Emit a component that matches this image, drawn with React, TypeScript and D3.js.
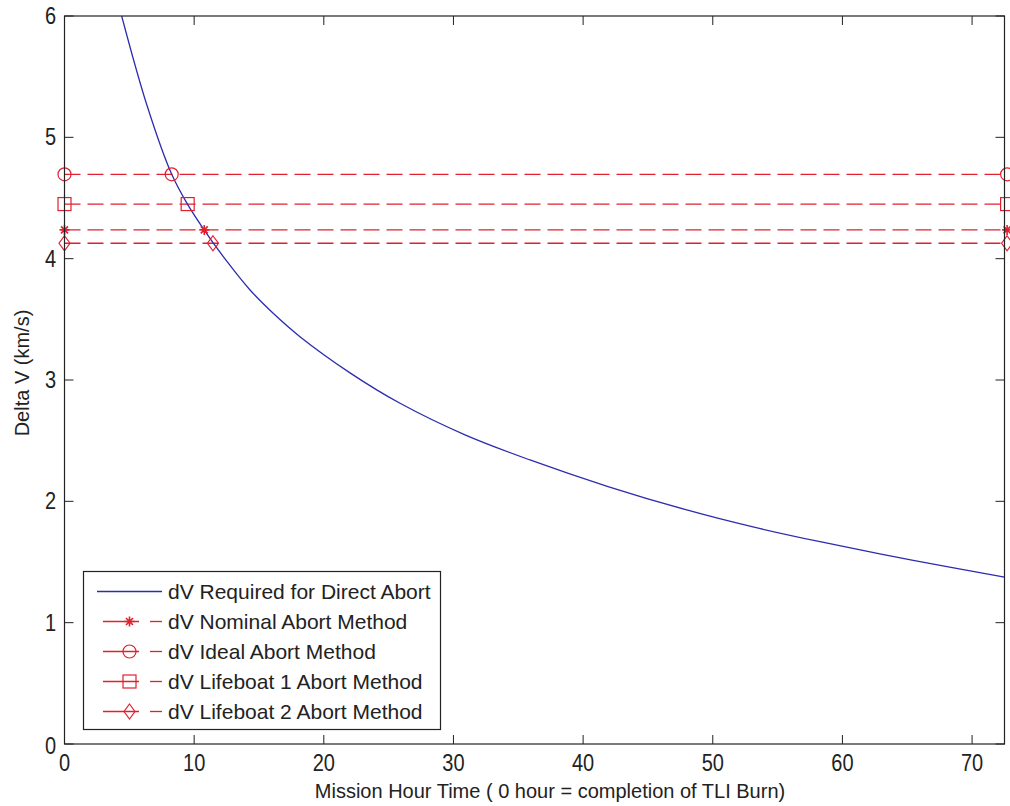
import React from 'react';
import * as d3 from 'd3';

// curve
const CURVE_T = [4.41, 6.34, 8.27, 9.53, 10.78, 12.53, 14.31, 16.24, 18.16, 22.02, 25.88, 30.89, 35.9, 41.92, 47.99, 53.1, 58.27, 65.36, 72.5];
const CURVE_V = [6.0, 5.271, 4.695, 4.441, 4.236, 3.977, 3.742, 3.535, 3.357, 3.059, 2.808, 2.548, 2.341, 2.122, 1.929, 1.789, 1.667, 1.515, 1.376];

// horizontal abort levels: value, crossing time, marker
const ABORT_NAMES = ['dV Nominal Abort Method', 'dV Ideal Abort Method', 'dV Lifeboat 1 Abort Method', 'dV Lifeboat 2 Abort Method'];
const ABORT_VALUES = [4.237, 4.695, 4.45, 4.127];
const ABORT_CROSS = [10.78, 8.27, 9.5, 11.45];
const ABORT_MARKERS = ['star', 'circle', 'square', 'diamond'];
const LINE_END = [0, 72.7];

const X_TICKS = [0, 10, 20, 30, 40, 50, 60, 70];
const Y_TICKS = [0, 1, 2, 3, 4, 5, 6];

const BLUE = '#2c2cb0';
const RED = '#e0202e';
const AXIS = '#222';
const FONT = '"Liberation Sans", Arial, Helvetica, sans-serif';

function Marker({ kind, x, y }: { kind: string; x: number; y: number }) {
  const p = { fill: 'none', stroke: RED, strokeWidth: 1.2 };
  if (kind === 'circle') return <circle cx={x} cy={y} r={6.5} {...p} />;
  if (kind === 'square') return <rect x={x - 6.5} y={y - 6.5} width={13} height={13} {...p} />;
  if (kind === 'diamond') return <path d={`M${x},${y - 7.5}L${x + 5.5},${y}L${x},${y + 7.5}L${x - 5.5},${y}Z`} {...p} />;
  const s = 5;
  return (
    <path
      d={`M${x - s},${y}H${x + s}M${x},${y - s}V${y + s}M${x - s * 0.7},${y - s * 0.7}L${x + s * 0.7},${y + s * 0.7}M${x - s * 0.7},${y + s * 0.7}L${x + s * 0.7},${y - s * 0.7}`}
      {...p}
      strokeWidth={1.6}
    />
  );
}

export default function App() {
  const W = 1010, H = 806;
  const left = 64.5, right = 1004.5, top = 16, bottom = 744;
  const x = d3.scaleLinear().domain([0, 72.5]).range([left, right]);
  const y = d3.scaleLinear().domain([0, 6]).range([bottom, top]);

  const curve = d3.line<number>()
    .x((_, i) => x(CURVE_T[i]))
    .y((v) => y(v))
    .curve(d3.curveCatmullRom.alpha(0.5))(CURVE_V) as string;

  const tick = 9;

  // legend layout
  const lgX = 83.5, lgY = 571.5, lgW = 357, lgH = 158;
  const rowY = (i: number) => 591.5 + i * 30;

  return (
    <svg width={W} height={H} style={{ position: 'absolute', left: 0, top: 0, background: '#fff' }} fontFamily={FONT}>
      <rect x={0} y={0} width={W} height={H} fill="#fff" />
      <defs>
        <clipPath id="plot">
          <rect x={left} y={top} width={right - left} height={bottom - top} />
        </clipPath>
      </defs>

      {/* abort levels */}
      {ABORT_VALUES.map((v, i) => (
        <line key={'l' + i} x1={x(LINE_END[0])} x2={x(LINE_END[1])} y1={y(v)} y2={y(v)}
          stroke={RED} strokeWidth={1.3} strokeDasharray="16,7" />
      ))}

      {/* required curve */}
      <path d={curve} fill="none" stroke={BLUE} strokeWidth={1.3} clipPath="url(#plot)" />

      {ABORT_VALUES.map((v, i) => (
        <g key={'m' + i}>
          {[LINE_END[0], ABORT_CROSS[i], LINE_END[1]].map((t, j) => (
            <Marker key={j} kind={ABORT_MARKERS[i]} x={x(t)} y={y(v)} />
          ))}
        </g>
      ))}

      {/* axes box */}
      <rect x={left} y={top} width={right - left} height={bottom - top} fill="none" stroke={AXIS} strokeWidth={1.2} />
      {X_TICKS.map((t) => (
        <g key={'x' + t}>
          <line x1={x(t)} x2={x(t)} y1={bottom} y2={bottom - tick} stroke={AXIS} />
          <line x1={x(t)} x2={x(t)} y1={top} y2={top + tick} stroke={AXIS} />
          <text transform={`translate(${x(t)},770.5) scale(1,1.15)`} textAnchor="middle" fontSize={20} fill="#222">{t}</text>
        </g>
      ))}
      {Y_TICKS.map((t) => (
        <g key={'y' + t}>
          <line x1={left} x2={left + tick} y1={y(t)} y2={y(t)} stroke={AXIS} />
          <line x1={right} x2={right - tick} y1={y(t)} y2={y(t)} stroke={AXIS} />
          <text transform={`translate(56,${y(t) + (t === 0 ? 10 : 8)}) scale(1,1.15)`} textAnchor="end" fontSize={20} fill="#222">{t}</text>
        </g>
      ))}

      <text x={550} y={798} textAnchor="middle" fontSize={20} fill="#222">
        Mission Hour Time ( 0 hour = completion of TLI Burn)
      </text>
      <text transform="translate(29,373) rotate(-90)" textAnchor="middle" fontSize={20} fill="#222">
        Delta V (km/s)
      </text>

      {/* legend */}
      <rect x={lgX} y={lgY} width={lgW} height={lgH} fill="#fff" stroke={AXIS} strokeWidth={1.2} />
      <line x1={97} x2={162} y1={rowY(0)} y2={rowY(0)} stroke={BLUE} strokeWidth={1.3} />
      <text x={168} y={rowY(0) + 7.5} fontSize={21} fill="#222">dV Required for Direct Abort</text>
      {ABORT_NAMES.map((name, i) => (
        <g key={'lg' + i}>
          <line x1={103} x2={139} y1={rowY(i + 1)} y2={rowY(i + 1)} stroke={RED} strokeWidth={1.3} />
          <line x1={150} x2={162} y1={rowY(i + 1)} y2={rowY(i + 1)} stroke={RED} strokeWidth={1.3} />
          <Marker kind={ABORT_MARKERS[i]} x={129.5} y={rowY(i + 1)} />
          <text x={168} y={rowY(i + 1) + 7.5} fontSize={21} fill="#222">{name}</text>
        </g>
      ))}
    </svg>
  );
}
